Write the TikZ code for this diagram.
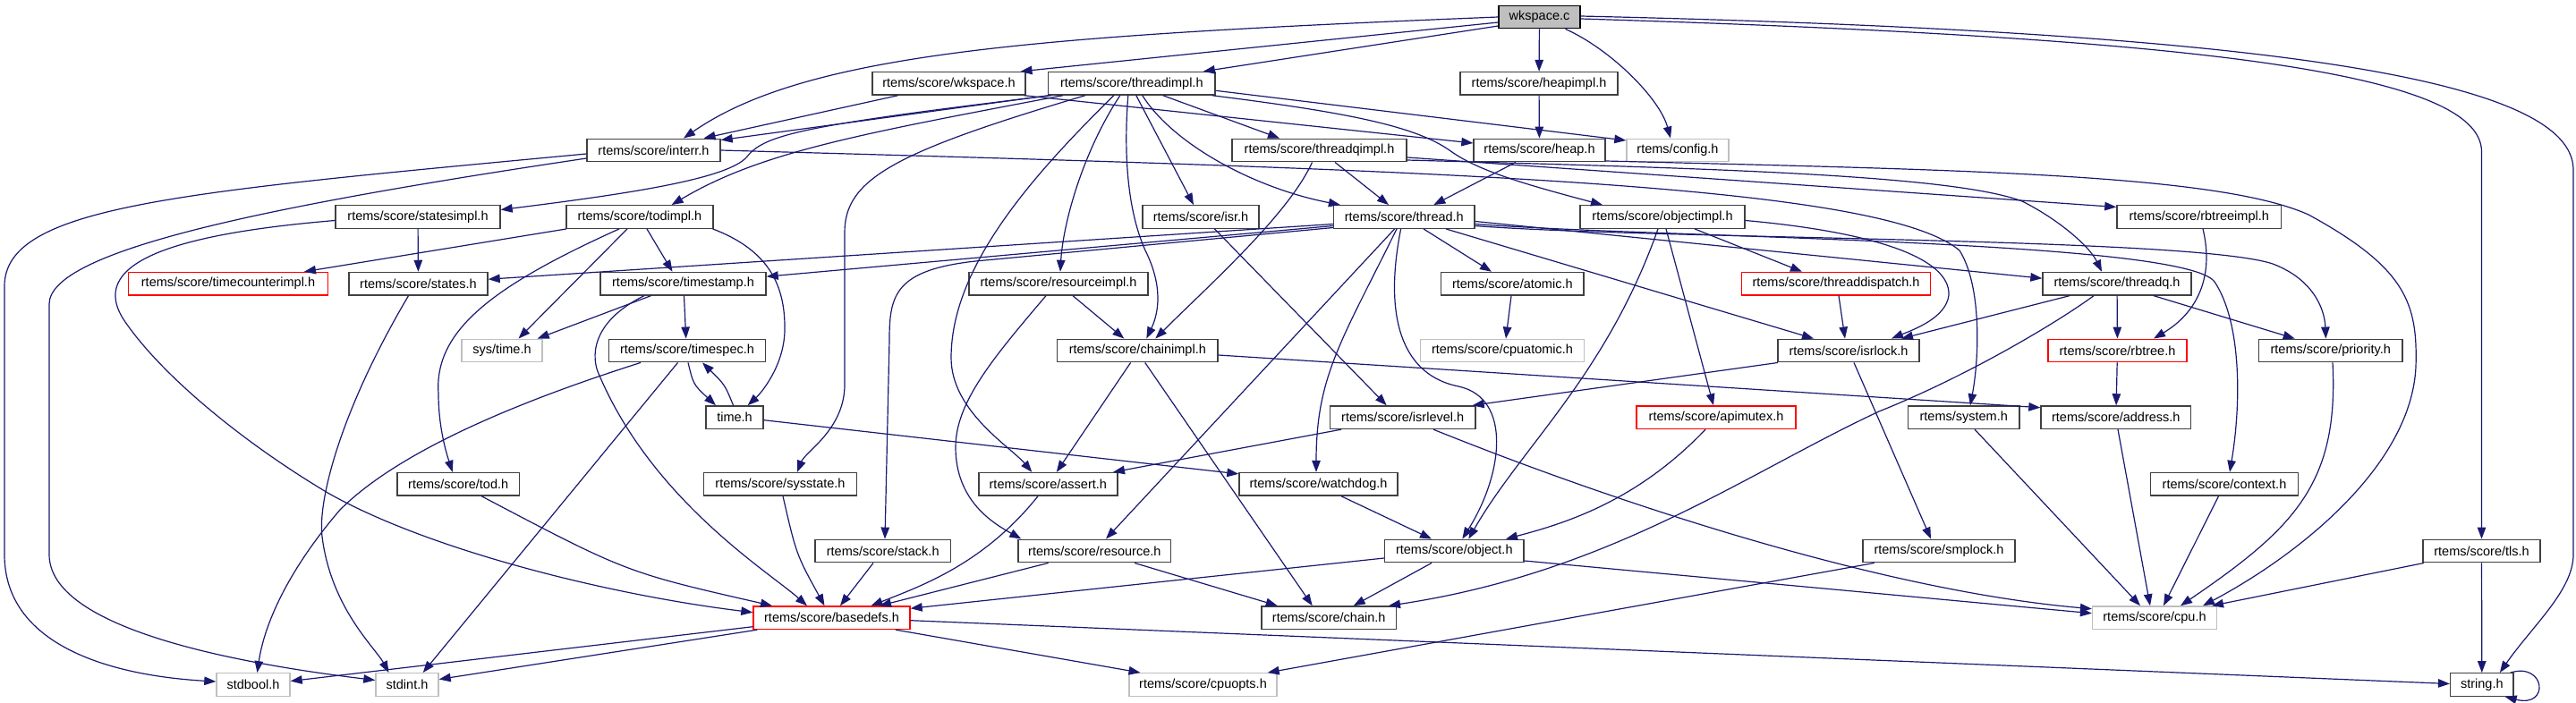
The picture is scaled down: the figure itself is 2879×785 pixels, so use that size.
\documentclass[tikz,border=0pt]{standalone}
\usepackage{fontspec}
\setmainfont{Liberation Sans}
\usetikzlibrary{arrows.meta}
\definecolor{edgeblue}{HTML}{191970}
\definecolor{grey75}{HTML}{BFBFBF}
\definecolor{grey25}{HTML}{404040}
\tikzset{
	hdr/.style={draw=grey25, fill=white, line width=1.4pt, minimum height=25.5pt, inner sep=0pt, font=\fontsize{14.5pt}{17pt}\selectfont},
	srcfile/.style={hdr, draw=black, fill=grey75},
	syshdr/.style={hdr, draw=grey75},
	cuthdr/.style={hdr, draw=red},
	incl/.style={draw=edgeblue, line width=1.2pt, -{Triangle[length=13pt,width=9.5pt]}}
}

\begin{document}
\begin{tikzpicture}[x=1pt, y=-1pt]
			%%%%% START %%%%%
			
			\path[use as bounding box, fill=white] (0,0) rectangle (2879,785);
			
			\node[srcfile, minimum width=91pt] (wkspacec) at (1720.5,19) {wkspace.c};
			
			\node[hdr, minimum width=171pt] (wkspaceh) at (1060.5,93.3) {rtems/score/wkspace.h};
			\node[hdr, minimum width=186.5pt] (threadimpl) at (1264.8,93.3) {rtems/score/threadimpl.h};
			\node[hdr, minimum width=176pt] (heapimpl) at (1720,93.3) {rtems/score/heapimpl.h};
			
			\node[hdr, minimum width=149pt] (interr) at (730.5,168) {rtems/score/interr.h};
			\node[hdr, minimum width=195pt] (threadqimpl) at (1474.5,168) {rtems/score/threadqimpl.h};
			\node[hdr, minimum width=147pt] (heap) at (1720.5,168) {rtems/score/heap.h};
			\node[syshdr, minimum width=114pt] (config) at (1875,168) {rtems/config.h};
			
			\node[hdr, minimum width=184pt] (statesimpl) at (467,242.5) {rtems/score/statesimpl.h};
			\node[hdr, minimum width=164pt] (todimpl) at (715,242.5) {rtems/score/todimpl.h};
			\node[hdr, minimum width=130pt] (isr) at (1342,242.5) {rtems/score/isr.h};
			\node[hdr, minimum width=157.4pt] (thread) at (1569.3,242.5) {rtems/score/thread.h};
			\node[hdr, minimum width=184pt] (objectimpl) at (1858,242.5) {rtems/score/objectimpl.h};
			\node[hdr, minimum width=183.5pt] (rbtreeimpl) at (2457.7,242.5) {rtems/score/rbtreeimpl.h};
			
			\node[cuthdr, minimum width=223pt] (timecounterimpl) at (255,317.2) {rtems/score/timecounterimpl.h};
			\node[hdr, minimum width=155pt] (states) at (467.5,317.2) {rtems/score/states.h};
			\node[hdr, minimum width=185pt] (timestamp) at (763.5,317.2) {rtems/score/timestamp.h};
			\node[hdr, minimum width=200pt] (resourceimpl) at (1183,317.2) {rtems/score/resourceimpl.h};
			\node[hdr, minimum width=159.4pt] (atomic) at (1690.3,317.2) {rtems/score/atomic.h};
			\node[cuthdr, minimum width=211.5pt] (threaddispatch) at (2052,317.2) {rtems/score/threaddispatch.h};
			\node[hdr, minimum width=166pt] (threadq) at (2366,317.2) {rtems/score/threadq.h};
			
			\node[syshdr, minimum width=90pt] (systime) at (561,392) {sys/time.h};
			\node[hdr, minimum width=174.5pt] (timespec) at (768,392) {rtems/score/timespec.h};
			\node[hdr, minimum width=179.4pt] (chainimpl) at (1271.3,392) {rtems/score/chainimpl.h};
			\node[syshdr, minimum width=183pt] (cpuatomic) at (1679,392) {rtems/score/cpuatomic.h};
			\node[hdr, minimum width=158pt] (isrlock) at (2066,392) {rtems/score/isrlock.h};
			\node[cuthdr, minimum width=155pt] (rbtree) at (2366.5,392) {rtems/score/rbtree.h};
			\node[hdr, minimum width=160.5pt] (priority) at (2604.7,392) {rtems/score/priority.h};
			
			\node[hdr, minimum width=64pt] (time) at (821,466.7) {time.h};
			\node[hdr, minimum width=162.5pt] (isrlevel) at (1567.7,466.7) {rtems/score/isrlevel.h};
			\node[cuthdr, minimum width=178pt] (apimutex) at (1918,466.7) {rtems/score/apimutex.h};
			\node[hdr, minimum width=124.5pt] (system) at (2194.7,466.7) {rtems/system.h};
			\node[hdr, minimum width=167.6pt] (address) at (2364.8,466.7) {rtems/score/address.h};
			
			\node[hdr, minimum width=136.5pt] (tod) at (512.2,541.3) {rtems/score/tod.h};
			\node[hdr, minimum width=171pt] (sysstate) at (872,541.3) {rtems/score/sysstate.h};
			\node[hdr, minimum width=155pt] (assert) at (1171.3,541.3) {rtems/score/assert.h};
			\node[hdr, minimum width=177pt] (watchdog) at (1473.5,541.3) {rtems/score/watchdog.h};
			\node[hdr, minimum width=164.8pt] (context) at (2486,541.3) {rtems/score/context.h};
			
			\node[hdr, minimum width=151.5pt] (stack) at (986.7,616) {rtems/score/stack.h};
			\node[hdr, minimum width=170.6pt] (resource) at (1223.3,616) {rtems/score/resource.h};
			\node[hdr, minimum width=155.4pt] (object) at (1625.3,616) {rtems/score/object.h};
			\node[hdr, minimum width=170pt] (smplock) at (2167,616) {rtems/score/smplock.h};
			\node[hdr, minimum width=131pt] (tls) at (2773.5,616) {rtems/score/tls.h};
			
			\node[cuthdr, minimum width=175pt] (basedefs) at (929.5,690.7) {rtems/score/basedefs.h};
			\node[hdr, minimum width=150.5pt] (chain) at (1485.2,690.7) {rtems/score/chain.h};
			\node[syshdr, minimum width=138.8pt] (cpu) at (2408,690.7) {rtems/score/cpu.h};
			
			\node[syshdr, minimum width=82pt] (stdbool) at (283,765.5) {stdbool.h};
			\node[syshdr, minimum width=70pt] (stdint) at (455,765.5) {stdint.h};
			\node[syshdr, minimum width=165pt] (cpuopts) at (1344.5,765.5) {rtems/score/cpuopts.h};
			\node[hdr, minimum width=70.3pt] (string) at (2773.8,765.5) {string.h};
			
			% wkspace.c
			\draw[incl] (wkspacec.west) .. controls (1150,40) and (900,60) .. ([xshift=33.5pt]interr.north);
			\draw[incl] ([yshift=-6pt]wkspacec.west) -- ([xshift=80pt]wkspaceh.north);
			\draw[incl] ([yshift=-10pt]wkspacec.west) -- ([xshift=80pt]threadimpl.north);
			\draw[incl] (wkspacec) -- (heapimpl);
			\draw[incl] ([xshift=29pt]wkspacec.south) .. controls (1800,55) and (1855,110) .. ([xshift=-8pt]config.north);
			\draw[incl] ([yshift=-2pt]wkspacec.east) .. controls (2450,42) and (2774,80) .. (2773.5,170) -- (tls.north);
			\draw[incl] ([yshift=1pt]wkspacec.east) .. controls (2550,36) and (2876,90) .. (2876,190) -- (2876,620) .. controls (2876,660) and (2830,700) .. ([xshift=20pt]string.north);
			
			% wkspace.h, heapimpl.h
			\draw[incl] ([xshift=-57pt]wkspaceh.south) -- ([xshift=56pt]interr.north);
			\draw[incl] ([xshift=84pt]wkspaceh.south) -- ([yshift=8pt]heap.west);
			\draw[incl] (heapimpl) -- (heap);
			
			% threadimpl.h
			\draw[incl] ([xshift=-93pt]threadimpl.south) -- ([yshift=-2pt]interr.north east);
			\draw[incl] ([xshift=-90pt]threadimpl.south) .. controls (900,140) and (855,150) .. (835,175) .. controls (815,200) and (700,217) .. ([yshift=8pt]statesimpl.east);
			\draw[incl] ([xshift=-77pt]threadimpl.south) .. controls (960,150) and (850,170) .. ([xshift=35.6pt]todimpl.north);
			\draw[incl] ([xshift=-52pt]threadimpl.south) .. controls (1000,170) and (944,200) .. (944,260) -- (944,430) .. controls (944,480) and (900,505) .. ([xshift=19pt]sysstate.north);
			\draw[incl] ([xshift=-20pt]threadimpl.south) .. controls (1150,200) and (1063,300) .. (1063,400) .. controls (1063,460) and (1130,500) .. ([xshift=-18pt]assert.north);
			\draw[incl] ([xshift=-13pt]threadimpl.south) .. controls (1210,170) and (1188,250) .. ([xshift=2pt]resourceimpl.north);
			\draw[incl] ([xshift=-4pt]threadimpl.south) .. controls (1255,180) and (1262,240) .. (1280,280) .. controls (1300,320) and (1295,350) .. ([xshift=10pt]chainimpl.north);
			\draw[incl] ([xshift=5pt]threadimpl.south) -- ([xshift=-8pt]isr.north);
			\draw[incl] ([xshift=12pt]threadimpl.south) .. controls (1310,160) and (1400,210) .. ([xshift=8pt]thread.north west);
			\draw[incl] ([xshift=35pt]threadimpl.south) -- ([xshift=-44.5pt]threadqimpl.north);
			\draw[incl] ([yshift=-8pt]threadimpl.east) -- ([yshift=11pt]config.west);
			\draw[incl] ([xshift=90pt]threadimpl.south) .. controls (1500,125) and (1580,140) .. (1620,168) .. controls (1650,190) and (1700,205) .. ([xshift=-67pt]objectimpl.north);
			
			% heap.h
			\draw[incl] ([xshift=-26.5pt]heap.south) -- ([xshift=33pt]thread.north);
			\draw[incl] ([yshift=-12pt]heap.east) .. controls (2200,190) and (2480,195) .. (2580,240) .. controls (2690,300) and (2702,340) .. (2700,410) .. controls (2695,520) and (2570,620) .. ([xshift=54pt]cpu.north);
			
			% threadqimpl.h
			\draw[incl] ([xshift=17.5pt]threadqimpl.south) -- ([xshift=-17.3pt]thread.north);
			\draw[incl] ([xshift=-8pt]threadqimpl.south) .. controls (1440,240) and (1350,320) .. ([xshift=20pt]chainimpl.north);
			\draw[incl] ([yshift=-11pt]threadqimpl.east) .. controls (1900,188) and (2180,195) .. (2260,225) .. controls (2300,245) and (2335,275) .. ([xshift=-17pt]threadq.north);
			\draw[incl] ([yshift=-8pt]threadqimpl.east) -- ([yshift=11pt]rbtreeimpl.west);
			
			% interr.h
			\draw[incl] (interr.east) .. controls (1600,190) and (2100,205) .. (2190,280) .. controls (2215,320) and (2212,400) .. ([xshift=7.3pt]system.north);
			\draw[incl] ([yshift=-4pt]interr.west) .. controls (200,215) and (5,230) .. (5,320) -- (5,620) .. controls (5,720) and (120,755) .. ([yshift=3.5pt]stdbool.west);
			\draw[incl] ([yshift=-9pt]interr.west) .. controls (300,230) and (55,280) .. (55,340) -- (55,620) .. controls (55,700) and (250,740) .. ([yshift=5pt]stdint.west);
			
			% statesimpl.h, todimpl.h
			\draw[incl] (statesimpl) -- (states);
			\draw[incl] ([yshift=-4pt]statesimpl.west) .. controls (190,262) and (95,295) .. (140,360) .. controls (185,425) and (280,500) .. (368,552) .. controls (480,615) and (680,665) .. ([yshift=6pt]basedefs.west);
			\draw[incl] ([xshift=-82pt]todimpl.south) -- ([xshift=85pt]timecounterimpl.north);
			\draw[incl] ([xshift=-23pt]todimpl.south) .. controls (550,320) and (485,370) .. (490,440) .. controls (490,480) and (500,510) .. ([xshift=-6.4pt]tod.north);
			\draw[incl] ([xshift=-14pt]todimpl.south) -- ([xshift=18.5pt]systime.north);
			\draw[incl] ([xshift=8pt]todimpl.south) -- ([xshift=-12pt]timestamp.north);
			\draw[incl] ([xshift=81.6pt]todimpl.south) .. controls (860,280) and (878,320) .. (877,370) .. controls (876,410) and (850,440) .. ([xshift=14.6pt]time.north);
			
			% states.h, timestamp.h, timespec.h, time.h
			\draw[incl] ([xshift=-11pt]states.south) .. controls (380,460) and (355,560) .. (360,600) .. controls (370,680) and (420,725) .. ([xshift=-20.5pt]stdint.north);
			\draw[incl] ([xshift=-36pt]timestamp.south) -- ([xshift=-6pt]systime.north east);
			\draw[incl] ([xshift=1pt]timestamp.south) -- ([xshift=-1.3pt]timespec.north);
			\draw[incl] ([xshift=-43.5pt]timestamp.south) .. controls (660,360) and (660,400) .. (670,420) .. controls (730,560) and (860,640) .. ([xshift=-27.5pt]basedefs.north);
			\draw[incl] ([xshift=1pt]timespec.south) .. controls (775,430) .. ([xshift=-21pt]time.north);
			\draw[incl] ([xshift=-52pt]timespec.south) .. controls (560,455) and (440,510) .. (380,570) .. controls (320,640) and (295,700) .. ([xshift=4.5pt]stdbool.north);
			\draw[incl] ([xshift=-10.5pt]timespec.south) -- ([xshift=17.7pt]stdint.north);
			\draw[incl] ([xshift=-1.4pt]time.north) .. controls (810,430) .. ([xshift=17pt]timespec.south);
			\draw[incl] ([yshift=-3pt]time.east) -- ([yshift=-2pt]watchdog.north west);
			
			% into basedefs.h
			\draw[incl] ([xshift=26pt]tod.south) .. controls (700,640) .. ([xshift=-66.5pt]basedefs.north);
			\draw[incl] ([xshift=3pt]sysstate.south) .. controls (890,620) .. ([xshift=-8pt]basedefs.north);
			\draw[incl] ([xshift=-10.7pt]stack.south) -- ([xshift=9.5pt]basedefs.north);
			\draw[incl] ([xshift=-11.3pt]assert.south) .. controls (1100,630) and (1030,655) .. ([xshift=44pt]basedefs.north);
			\draw[incl] ([xshift=-51.7pt]resource.south) -- ([xshift=53.5pt]basedefs.north);
			\draw[incl] ([xshift=44.7pt]resource.south) -- ([xshift=-57.5pt]chain.north);
			
			% basedefs.h
			\draw[incl] ([yshift=-10pt]basedefs.west) -- ([yshift=4pt]stdbool.east);
			\draw[incl] ([xshift=5pt]basedefs.south west) -- ([yshift=6pt]stdint.east);
			\draw[incl] ([yshift=-3pt]basedefs.east) -- ([yshift=1pt]string.west);
			\draw[incl] ([xshift=71.5pt]basedefs.south) -- ([xshift=-70pt]cpuopts.north);
			
			% isr.h, resourceimpl.h, chainimpl.h, isrlevel.h
			\draw[incl] ([xshift=15.5pt]isr.south) -- ([xshift=-18pt]isrlevel.north);
			\draw[incl] ([xshift=16pt]resourceimpl.south) -- ([xshift=-15pt]chainimpl.north);
			\draw[incl] ([xshift=-14pt]resourceimpl.south) .. controls (1110,400) and (1068,450) .. (1068,500) .. controls (1068,560) and (1110,585) .. ([xshift=-82pt]resource.north);
			\draw[incl] ([xshift=-7.7pt]chainimpl.south) -- ([xshift=9.5pt]assert.north);
			\draw[incl] ([xshift=8.4pt]chainimpl.south) -- ([xshift=-18.5pt]chain.north);
			\draw[incl] ([yshift=-5pt]chainimpl.east) -- ([yshift=11pt]address.west);
			\draw[incl] ([xshift=-68.7pt]isrlevel.south) -- ([xshift=72.7pt]assert.north);
			\draw[incl] ([xshift=34.3pt]isrlevel.south) .. controls (1800,560) and (2100,660) .. ([yshift=10pt]cpu.west);
			
			% watchdog.h, apimutex.h, object.h
			\draw[incl] ([xshift=25.5pt]watchdog.south) -- ([xshift=-25.3pt]object.north);
			\draw[incl] ([xshift=-12pt]apimutex.south) .. controls (1830,560) and (1750,585) .. ([xshift=57.7pt]object.north);
			\draw[incl] ([xshift=-25.3pt]object.south) -- ([xshift=27.5pt]chain.north);
			\draw[incl] ([yshift=-8pt]object.west) -- ([yshift=-3pt]basedefs.north east);
			\draw[incl] ([yshift=-11pt]object.east) -- ([yshift=5pt]cpu.west);
			
			% threadq.h, rbtreeimpl.h, rbtree.h
			\draw[incl] ([xshift=-26pt]threadq.south) .. controls (2300,360) and (2200,420) .. (2100,460) .. controls (1950,530) and (1800,640) .. ([xshift=66.8pt]chain.north);
			\draw[incl] ([xshift=-53pt]threadq.south) -- ([xshift=59pt]isrlock.north);
			\draw[incl] (threadq) -- (rbtree);
			\draw[incl] ([xshift=41pt]threadq.south) -- ([xshift=-40pt]priority.north);
			\draw[incl] ([xshift=4.3pt]rbtreeimpl.south) .. controls (2475,310) and (2455,350) .. ([xshift=40.5pt]rbtree.north);
			\draw[incl] (rbtree) -- (address);
			
			% into cpu.h, string.h
			\draw[incl] ([xshift=12.3pt]system.south) -- ([xshift=-16pt]cpu.north);
			\draw[incl] ([xshift=2.2pt]address.south) -- ([xshift=-5pt]cpu.north);
			\draw[incl] ([xshift=-6.5pt]context.south) -- ([xshift=10pt]cpu.north);
			\draw[incl] ([xshift=2.3pt]priority.south) .. controls (2614,540) and (2565,590) .. ([xshift=29pt]cpu.north);
			\draw[incl] ([xshift=-64.5pt]tls.south) -- ([xshift=64pt]cpu.north);
			\draw[incl] (tls) -- (string);
			\draw[incl] ([xshift=-4pt]string.north east) .. controls (2845,740) and (2850,792) .. ([xshift=-10pt]string.south east);
			
			% smplock.h, isrlock.h, threaddispatch.h, atomic.h
			\draw[incl] ([xshift=-72.3pt]smplock.south) -- ([xshift=-11pt]cpuopts.north east);
			\draw[incl] ([xshift=-79pt]isrlock.south) -- ([xshift=-4pt]isrlevel.north east);
			\draw[incl] ([xshift=6pt]isrlock.south) -- ([xshift=-9pt]smplock.north);
			\draw[incl] ([xshift=3pt]threaddispatch.south) -- ([xshift=-4pt]isrlock.north);
			\draw[incl] ([xshift=-1.3pt]atomic.south) -- ([xshift=4pt]cpuatomic.north);
			
			% objectimpl.h
			\draw[incl] ([xshift=-5pt]objectimpl.south) .. controls (1795,420) and (1700,500) .. ([xshift=16pt]object.north);
			\draw[incl] ([xshift=4pt]objectimpl.south) -- ([xshift=-3pt]apimutex.north);
			\draw[incl] ([xshift=36pt]objectimpl.south) -- ([xshift=-38pt]threaddispatch.north);
			\draw[incl] ([yshift=-4pt]objectimpl.east) .. controls (2100,260) and (2180,290) .. (2178,330) .. controls (2175,355) and (2140,368) .. ([xshift=48pt]isrlock.north);
			
			% thread.h
			\draw[incl] ([yshift=-8pt]thread.west) -- ([yshift=5pt]states.east);
			\draw[incl] ([yshift=-10pt]thread.west) -- ([yshift=8pt]timestamp.east);
			\draw[incl] ([yshift=-12pt]thread.west) -- (1090,292) .. controls (1000,302) and (994,330) .. (994,380) -- ([xshift=2.3pt]stack.north);
			\draw[incl] ([xshift=21.7pt]thread.south) -- ([xshift=-23.3pt]atomic.north);
			\draw[incl] ([xshift=46.7pt]thread.south) -- ([xshift=-39pt]isrlock.north);
			\draw[incl] ([xshift=-10.7pt]thread.south) -- ([xshift=12.7pt]resource.north);
			\draw[incl] ([xshift=-8.3pt]thread.south) .. controls (1500,380) and (1471,420) .. ([xshift=-2.5pt]watchdog.north);
			\draw[incl] ([xshift=-3.7pt]thread.south) .. controls (1545,360) and (1570,420) .. (1630,432) .. controls (1690,445) and (1680,530) .. ([xshift=9pt]object.north);
			\draw[incl] ([yshift=-5pt]thread.east) -- ([yshift=6pt]threadq.west);
			\draw[incl] ([yshift=-10pt]thread.east) .. controls (1850,268) and (2450,265) .. (2540,295) .. controls (2585,312) and (2598,345) .. ([xshift=-5.3pt]priority.north);
			\draw[incl] ([yshift=-8pt]thread.east) .. controls (1850,266) and (2440,268) .. (2475,315) .. controls (2505,360) and (2505,450) .. ([xshift=6pt]context.north);
			
			%%%%% END %%%%%
\end{tikzpicture}
\end{document}
